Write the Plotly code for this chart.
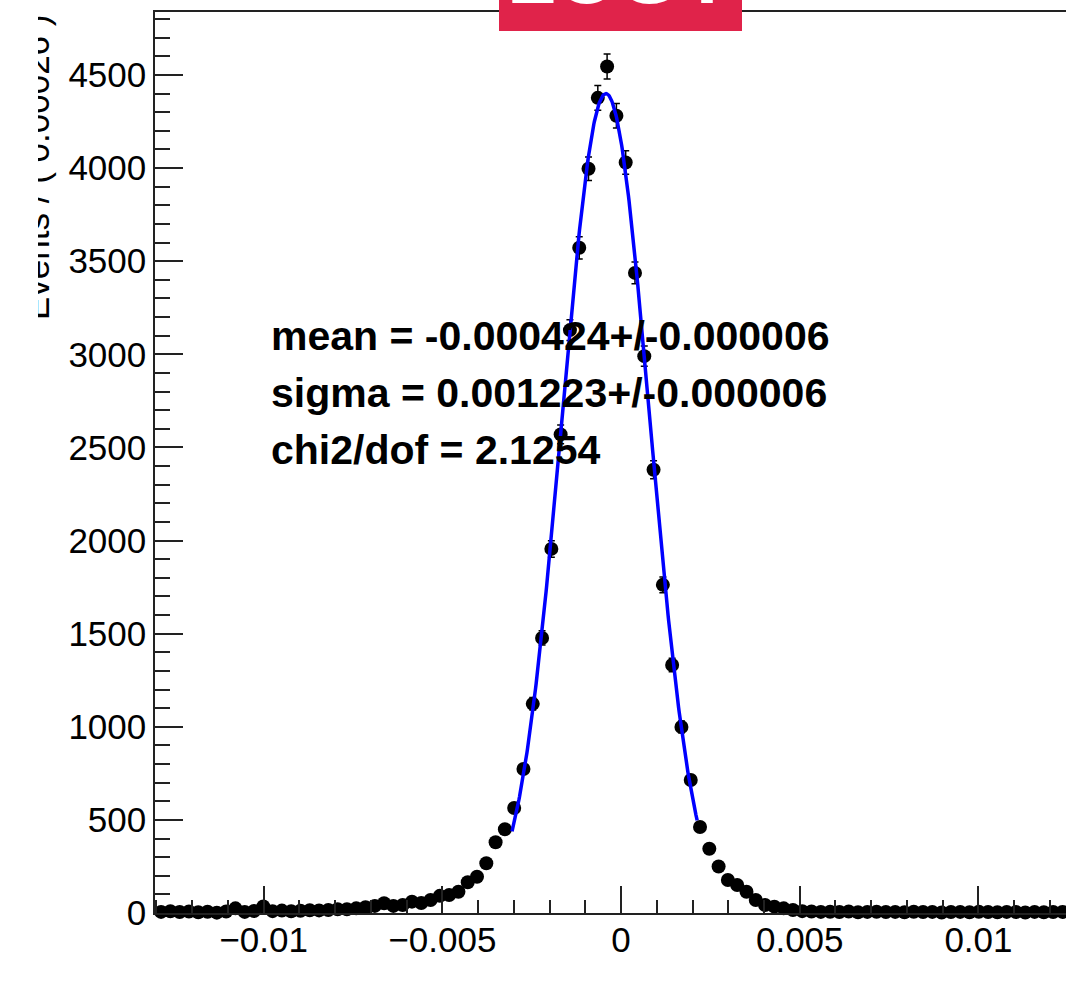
import numpy as np
import plotly.graph_objects as go

# ---- histogram data (RooFit style, 100 bins on [-0.013, 0.013]) ----
bin_lo = -0.013
bin_hi = 0.013
n_bins = 100
counts = [
    6, 9, 5, 8, 4, 7, 2, 8, 25, 6,
    11, 35, 10, 13, 9, 12, 15, 14, 16, 20,
    20, 25, 31, 38, 52, 38, 43, 61, 54, 70,
    92, 97, 114, 165, 195, 267, 380, 450, 564, 773,
    1123, 1477, 1955, 2570, 3130, 3572, 3996, 4377, 4545, 4281,
    4030, 3437, 2990, 2380, 1762, 1332, 999, 714, 462, 345,
    250, 177, 150, 114, 70, 43, 34, 25, 16, 10,
    8, 6, 7, 5, 8, 4, 6, 7, 5, 6,
    4, 7, 5, 6, 3, 5, 6, 4, 7, 5,
    4, 6, 5, 3, 6, 4, 5, 6, 4, 5,
]

# ---- Gaussian fit result (as printed on the chart) ----
fit_mean = -0.000424
fit_mean_err = 0.000006
fit_sigma = 0.001223
fit_sigma_err = 0.000006
fit_chi2 = 2.1254
fit_amp = 4400
fit_lo = -0.00305
fit_hi = 0.00213

x_tickvals = [-0.01, -0.005, 0, 0.005, 0.01]
x_ticktext = ["\u22120.01", "\u22120.005", "0", "0.005", "0.01"]
y_tickvals = [0, 500, 1000, 1500, 2000, 2500, 3000, 3500, 4000, 4500]

y_title = "Events / ( 0.00026 )"
box_label = "LOGY"
fit_lines = [
    f"mean = {fit_mean:.6f}+/-{fit_mean_err:.6f}",
    f"sigma = {fit_sigma:.6f}+/-{fit_sigma_err:.6f}",
    f"chi2/dof = {fit_chi2}",
]

# ---- derived ----
bw = (bin_hi - bin_lo) / n_bins
centers = bin_lo + bw * (np.arange(n_bins) + 0.5)
cnt = np.array(counts, dtype=float)
errs = np.sqrt(cnt)

xf = np.linspace(fit_lo, fit_hi, 300)
yf = fit_amp * np.exp(-0.5 * ((xf - fit_mean) / fit_sigma) ** 2)

W, H = 1066, 994
ML, MR, MT, MB = 155, 0, 12, 81
PW, PH = W - ML - MR, H - MT - MB


def px(xp):
    return (xp - ML) / PW


def py(yp):
    return (H - MB - yp) / PH


FONT = "Liberation Sans, Arial, Helvetica, sans-serif"

fig = go.Figure()
fig.add_trace(go.Scatter(
    x=centers, y=cnt, mode="markers",
    marker=dict(color="black", size=14, line=dict(width=0)),
    error_y=dict(type="data", array=errs, color="black", thickness=1.5, width=3.5),
    cliponaxis=False, showlegend=False, hoverinfo="x+y",
))
fig.add_trace(go.Scatter(
    x=xf, y=yf, mode="lines",
    line=dict(color="#0000ff", width=3.5),
    showlegend=False, hoverinfo="skip",
))

axis_common = dict(
    showline=True, linecolor="#222", linewidth=1.5,
    showgrid=False, zeroline=False,
    ticks="inside", tickcolor="#222", tickwidth=1.5,
    tickfont=dict(family=FONT, size=35, color="black"),
)

fig.update_xaxes(
    **axis_common,
    range=[-0.01304, 0.01245],
    mirror=True,
    tickvals=x_tickvals, ticktext=x_ticktext,
    ticklen=27,
    minor=dict(dtick=0.001, tick0=0, ticks="inside", ticklen=13,
               tickcolor="#222", tickwidth=1.5, showgrid=False),
    ticklabelstandoff=-5,
)
fig.update_yaxes(
    **axis_common,
    range=[0, 4838],
    tickvals=y_tickvals,
    ticklen=28,
    minor=dict(dtick=100, tick0=0, ticks="inside", ticklen=15,
               tickcolor="#222", tickwidth=1.5, showgrid=False),
    ticklabelstandoff=0,
)

annotations = []
# fit result text
for k, (line, yc) in enumerate(zip(fit_lines, [336, 393, 450])):
    annotations.append(dict(
        xref="paper", yref="paper", x=px(269), y=py(yc),
        xanchor="left", yanchor="middle", showarrow=False,
        text=f"<b>{line}</b>",
        font=dict(family=FONT, size=41, color="black"),
    ))
# y-axis title (partially cropped at the left edge)
annotations.append(dict(
    xref="paper", yref="paper", x=px(36), y=py(168),
    xanchor="center", yanchor="middle", showarrow=False,
    textangle=-90, text=y_title,
    font=dict(family=FONT, size=35, color="black"),
))
annotations.append(dict(
    xref="paper", yref="paper", x=px(0), y=py(0),
    xanchor="left", yanchor="top", showarrow=False,
    text=" ", width=38, height=345, bgcolor="white",
    borderpad=0, borderwidth=0,
))
# red label box text (cropped at top)
annotations.append(dict(
    xref="paper", yref="paper", x=px(620), y=py(22),
    xanchor="center", yanchor="bottom", showarrow=False,
    text=f"<b>{box_label}</b>",
    font=dict(family=FONT, size=80, color="white"),
))

fig.update_layout(
    width=W, height=H,
    margin=dict(l=ML, r=MR, t=MT, b=MB, pad=0),
    paper_bgcolor="white", plot_bgcolor="white",
    annotations=annotations,
    shapes=[dict(
        type="rect", xref="paper", yref="paper",
        x0=px(499), x1=px(742), y0=py(31), y1=py(-10),
        fillcolor="#e0234a", line=dict(width=0), layer="above",
    )],
)

fig.write_html("out.html")
